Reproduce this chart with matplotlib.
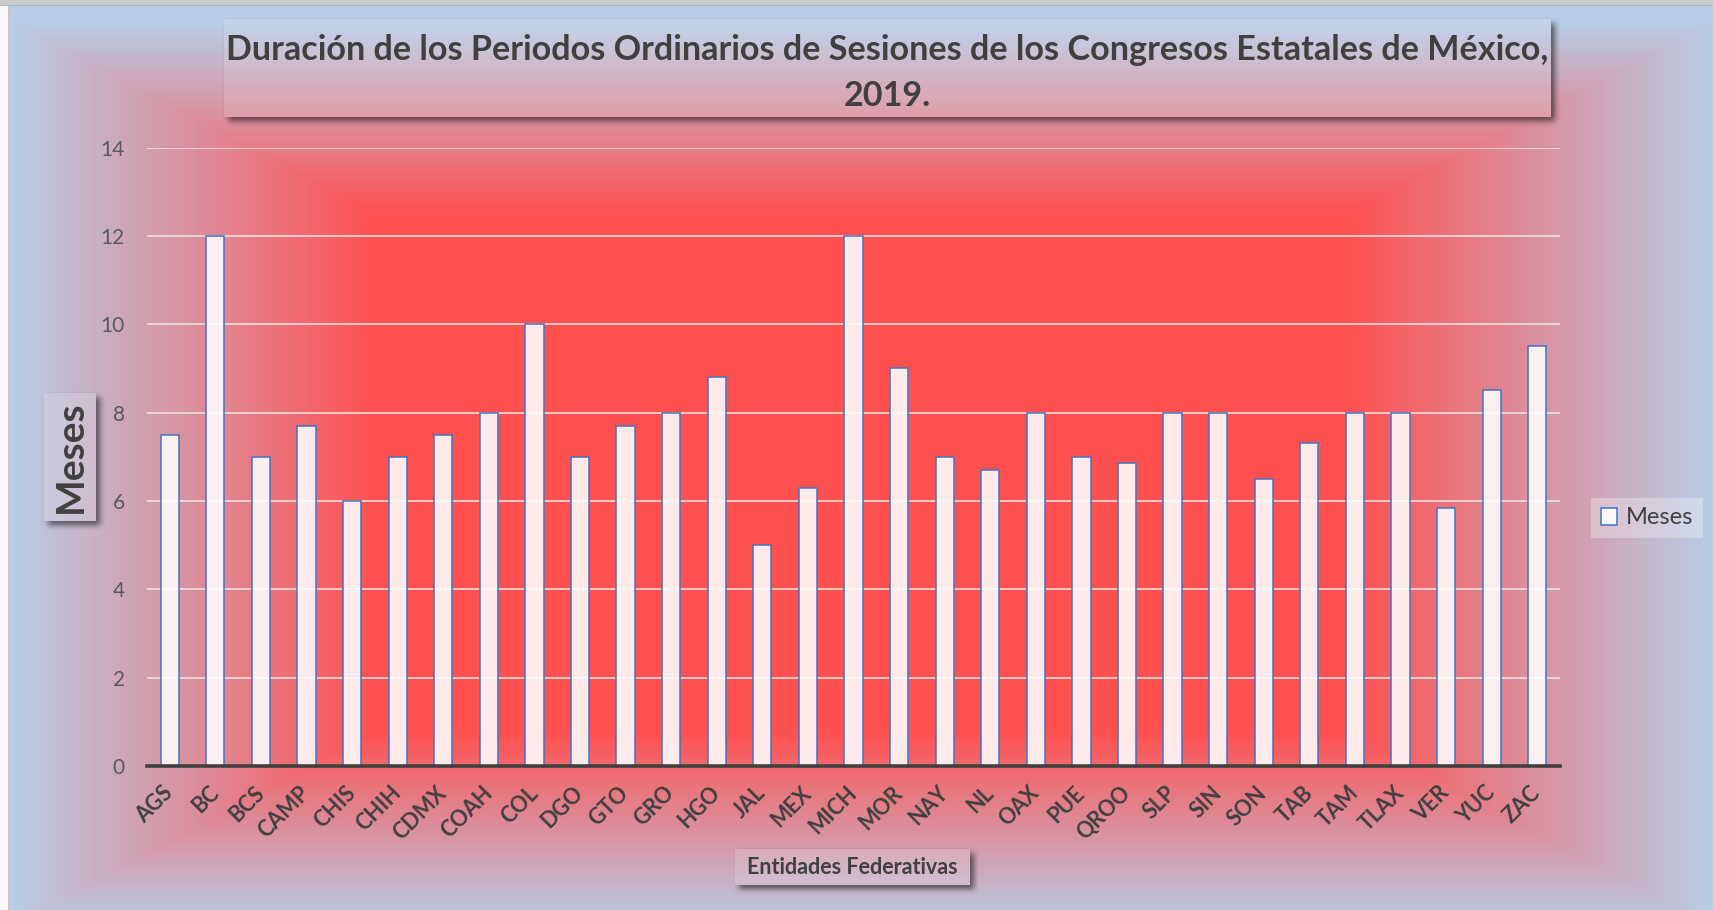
import numpy as np
import matplotlib.pyplot as plt

plt.rcParams['font.family'] = ['Lato', 'DejaVu Sans']

# datos
estados = ['AGS', 'BC', 'BCS', 'CAMP', 'CHIS', 'CHIH', 'CDMX', 'COAH', 'COL', 'DGO',
           'GTO', 'GRO', 'HGO', 'JAL', 'MEX', 'MICH', 'MOR', 'NAY', 'NL', 'OAX',
           'PUE', 'QROO', 'SLP', 'SIN', 'SON', 'TAB', 'TAM', 'TLAX', 'VER', 'YUC', 'ZAC']
meses = [7.5, 12, 7, 7.7, 6, 7, 7.5, 8, 10, 7,
         7.7, 8, 8.8, 5, 6.3, 12, 9, 7, 6.7, 8,
         7, 6.85, 8, 8, 6.5, 7.3, 8, 8, 5.83, 8.5, 9.5]
yticks = [0, 2, 4, 6, 8, 10, 12, 14]

titulo = 'Duración de los Periodos Ordinarios de Sesiones de los Congresos Estatales de México,\n2019.'

W, H = 1713, 910
GRIS = '#404040'


def desenfocar(m, r):
    # desenfoque de caja repetido (aprox. gaussiano)
    k = 2 * r + 1
    for eje in (0, 1):
        for _ in range(2):
            pad = [(r + 1, r) if a == eje else (0, 0) for a in range(2)]
            c = np.cumsum(np.pad(m, pad), axis=eje)
            if eje == 0:
                m = (c[k:] - c[:-k]) / k
            else:
                m = (c[:, k:] - c[:, :-k]) / k
    return m


# fondo con degradado rectangular desde el centro
x0, y0 = 9, 6
yy, xx = np.mgrid[0:H, 0:W]
cx, cy = (x0 + W) / 2, (y0 + H) / 2 + 15
tx = np.abs(xx - cx) / ((W - x0) / 2)
ty = np.abs(yy - cy) / ((H - y0) / 2)
t = np.maximum(tx, ty)
f = np.clip((t - 0.57) / 0.43, 0, 1)
rojo = np.array([255, 80, 80]) / 255
azul = np.array([184, 206, 232]) / 255
img = rojo + f[..., None] * (azul - rojo)

# cajas (x0, x1, y0, y1, alfa del relleno) en pixeles
cajas = [(224, 1551, 19, 117, 0.12),
         (44, 96, 393, 521, 0.15),
         (735, 970, 849, 885, 0.15)]
for (a, b, c, d, alfa) in cajas:
    m = np.zeros((H, W))
    m[c + 4:d + 4, a + 4:b + 4] = 1
    s = desenfocar(m, 3)
    dentro = np.zeros((H, W), bool)
    dentro[c:d, a:b] = True
    s[dentro] = 0
    img = img * (1 - 0.55 * s[..., None])
    img[dentro] = img[dentro] * (1 - alfa) + alfa

img[:, :x0 - 1] = 0.97
img[:, x0 - 1] = 0.78
img[:y0 - 1, :] = 0.80
img[y0 - 1, :] = 0.72

fig = plt.figure(figsize=(W / 100, H / 100), dpi=100)
fondo = fig.add_axes([0, 0, 1, 1], zorder=-1)
fondo.imshow(img, aspect='auto', interpolation='bilinear')
fondo.axis('off')

ax = fig.add_axes([147 / W, (H - 766) / H, 1413 / W, (766 - 147.5) / H])
ax.patch.set_alpha(0)
x = np.arange(len(estados))
ax.bar(x, meses, width=0.4, color=(1, 1, 1, 0.88), edgecolor='#4472C4',
       linewidth=1.1, zorder=3, label='Meses')

ax.set_xlim(-0.5, len(estados) - 0.5)
ax.set_ylim(0, 14)
ax.set_yticks(yticks)
ax.set_xticks(x)
ax.set_xticklabels(estados, rotation=45, ha='right', va='center',
                   rotation_mode='anchor', fontweight='bold', color=GRIS, fontsize=15.5)
ax.yaxis.grid(True, color='#E8E8E8', linewidth=1.3, alpha=0.85)
ax.set_axisbelow(True)
for lado in ['top', 'right', 'left']:
    ax.spines[lado].set_visible(False)
ax.spines['bottom'].set_color(GRIS)
ax.spines['bottom'].set_linewidth(2.6)
ax.spines['bottom'].set_zorder(4)
ax.tick_params(axis='y', length=0, labelsize=15, labelcolor='#595959', pad=16)
ax.tick_params(axis='x', length=0, pad=17)

leg = ax.legend(loc='center', bbox_to_anchor=(1647 / W, 1 - 518 / H),
                bbox_transform=fig.transFigure, fontsize=17, frameon=True,
                fancybox=False, framealpha=0.3, facecolor='white', edgecolor='none',
                handlelength=0.7, handleheight=0.7, handletextpad=0.35, borderpad=0.4)
for txt in leg.get_texts():
    txt.set_color(GRIS)

fig.text(887 / W, 1 - 73 / H, titulo, ha='center', va='center', fontsize=24.6,
         fontweight='bold', color=GRIS, linespacing=1.55)
fig.text(70 / W, 1 - 457 / H, 'Meses', rotation=90, ha='center', va='center',
         fontsize=28, fontweight='bold', color=GRIS)
fig.text(852 / W, 1 - 867 / H, 'Entidades Federativas', ha='center', va='center',
         fontsize=15.5, fontweight='bold', color=GRIS)

fig.savefig('out.png', dpi=100)
